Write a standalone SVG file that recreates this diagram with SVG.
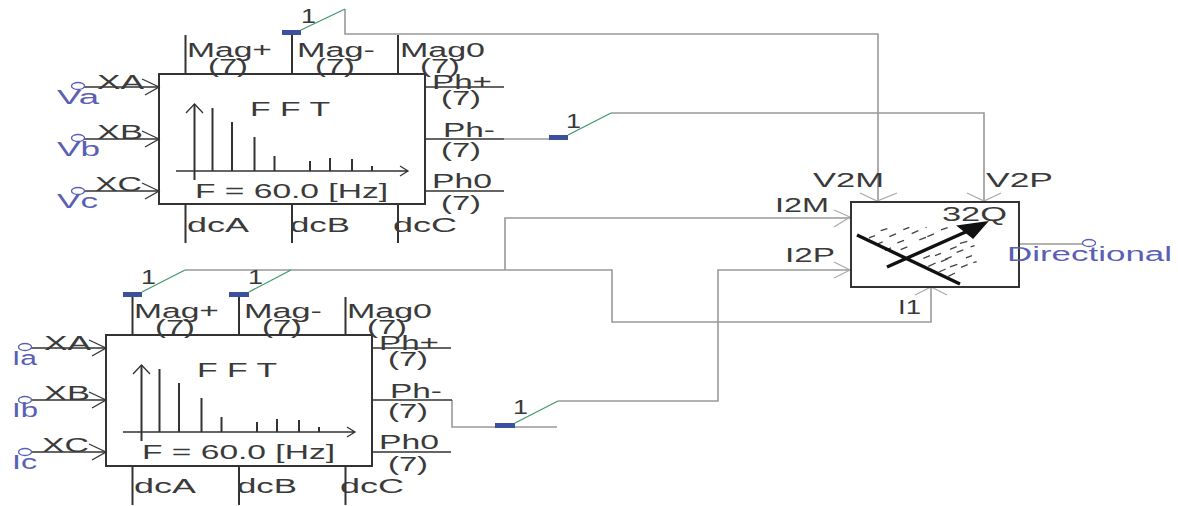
<svg xmlns="http://www.w3.org/2000/svg" width="1178" height="506" viewBox="0 0 1178 506">
<style>
text{font-family:"Liberation Sans",Arial,sans-serif;font-size:20px;fill:#3a3a3a}
.b{fill:#5a60b4}
.box{fill:#fff;stroke:#333;stroke-width:2}
.pin{stroke:#333;stroke-width:2;fill:none}
.thin{stroke:#333;stroke-width:1.3;fill:none}
.wire{stroke:#999;stroke-width:1.6;fill:none}
.ah{stroke:#aaa;stroke-width:1.2;fill:none}
.g{stroke:#3f9a6a;stroke-width:1.3;fill:none}
.sw{fill:#3c50a0}
.term{fill:#fff;stroke:#5a60b4;stroke-width:1.3}
.heavy{stroke:#111;stroke-width:3.4;fill:none}
.dash{stroke:#444;stroke-width:4;fill:none}
</style>
<defs>
<g id="spectrum">
<path class="pin" d="M35.500 30V106M53.500 34V97M73 48V97M95.500 63V97M115.500 82V97M151 87V97M171 84V97M193 85V97M213 92V97"/>
<path class="thin" d="M17 97H249M27 39L35.500 30L44 39M241 92L249 97L241 102"/>
</g>
<g id="inArrow"><path class="thin" d="M-17-8L0 0L-14 8"/></g>
</defs>
<rect width="1178" height="506" fill="#fff"/>
<g id="connectors">
<path class="wire" d="M345 9V34H878V201"/>
<path class="wire" d="M504 139H549M611 113H984V201"/>
<path class="wire" d="M185 270H612V322H931V287M505 270V218H850"/>
<path class="wire" d="M452 400V427H495M515 427H557M558 401H718V270H850"/>
<path class="wire" d="M1019 244H1083"/>
<path class="ah" d="M860 193L877 201L897 193M967 193L984 201L1001 193M834 210L850 217L834 227M834 262L850 270L834 278M915 295L931 287L947 295"/>
</g>
<g id="fft-v">
<path class="pin" d="M185.500 35V74M292 35V74M398 35V74M185.500 205V243M292 205V243M398 205V243"/>
<path class="thin" d="M75 87H159M75 139H159M75 191H159M425 87H504M425 139H504M425 191H504"/>
<rect class="box" x="159" y="74" width="266" height="130"/>
<use href="#spectrum" x="159" y="74"/>
<use href="#inArrow" x="159" y="87"/><use href="#inArrow" x="159" y="139"/><use href="#inArrow" x="159" y="191"/>
<ellipse class="term" cx="78" cy="86" rx="6.500" ry="3.500"/><ellipse class="term" cx="78" cy="138" rx="6.500" ry="3.500"/><ellipse class="term" cx="78" cy="191" rx="6.500" ry="3.500"/>
<text x="187" y="57" textLength="85" lengthAdjust="spacingAndGlyphs">Mag+</text>
<text x="208" y="73" textLength="40" lengthAdjust="spacingAndGlyphs">(7)</text>
<text x="297" y="57" textLength="78" lengthAdjust="spacingAndGlyphs">Mag-</text>
<text x="315" y="73" textLength="40" lengthAdjust="spacingAndGlyphs">(7)</text>
<text x="400" y="57" textLength="85" lengthAdjust="spacingAndGlyphs">Mag0</text>
<text x="420" y="73" textLength="40" lengthAdjust="spacingAndGlyphs">(7)</text>
<text x="432" y="89" textLength="60" lengthAdjust="spacingAndGlyphs">Ph+</text>
<text x="441" y="105" textLength="40" lengthAdjust="spacingAndGlyphs">(7)</text>
<text x="443" y="137" textLength="52" lengthAdjust="spacingAndGlyphs">Ph-</text>
<text x="441" y="157" textLength="40" lengthAdjust="spacingAndGlyphs">(7)</text>
<text x="432" y="188" textLength="60" lengthAdjust="spacingAndGlyphs">Ph0</text>
<text x="441" y="210" textLength="40" lengthAdjust="spacingAndGlyphs">(7)</text>
<text x="187" y="232" textLength="62" lengthAdjust="spacingAndGlyphs">dcA</text>
<text x="290" y="232" textLength="60" lengthAdjust="spacingAndGlyphs">dcB</text>
<text x="393" y="232" textLength="64" lengthAdjust="spacingAndGlyphs">dcC</text>
<text x="97" y="89" textLength="47" lengthAdjust="spacingAndGlyphs">XA</text>
<text x="97" y="139" textLength="46" lengthAdjust="spacingAndGlyphs">XB</text>
<text x="95" y="191" textLength="47" lengthAdjust="spacingAndGlyphs">XC</text>
<text class="b" x="57" y="104" textLength="42" lengthAdjust="spacingAndGlyphs">Va</text>
<text class="b" x="57" y="156" textLength="43" lengthAdjust="spacingAndGlyphs">Vb</text>
<text class="b" x="57" y="208" textLength="41" lengthAdjust="spacingAndGlyphs">Vc</text>
<text x="250" y="116" textLength="80" lengthAdjust="spacingAndGlyphs">F F T</text>
<text x="195" y="198" textLength="193" lengthAdjust="spacingAndGlyphs">F = 60.0 [Hz]</text>
</g>
<g id="fft-i">
<path class="pin" d="M132.500 297V335M239 297V335M345.500 297V335M132.500 466V505M239 466V505M345.500 466V505"/>
<path class="thin" d="M22 348H106M22 400H106M22 452H106M372 348H451M372 400H452M372 452H451"/>
<rect class="box" x="106" y="335" width="266" height="131"/>
<use href="#spectrum" x="106" y="335"/>
<use href="#inArrow" x="106" y="348"/><use href="#inArrow" x="106" y="400"/><use href="#inArrow" x="106" y="452"/>
<ellipse class="term" cx="25" cy="347" rx="6.500" ry="3.500"/><ellipse class="term" cx="25" cy="400" rx="6.500" ry="3.500"/><ellipse class="term" cx="25" cy="452" rx="6.500" ry="3.500"/>
<text x="134" y="318" textLength="85" lengthAdjust="spacingAndGlyphs">Mag+</text>
<text x="155" y="334" textLength="40" lengthAdjust="spacingAndGlyphs">(7)</text>
<text x="244" y="318" textLength="78" lengthAdjust="spacingAndGlyphs">Mag-</text>
<text x="262" y="334" textLength="40" lengthAdjust="spacingAndGlyphs">(7)</text>
<text x="347" y="318" textLength="85" lengthAdjust="spacingAndGlyphs">Mag0</text>
<text x="367" y="334" textLength="40" lengthAdjust="spacingAndGlyphs">(7)</text>
<text x="379" y="350" textLength="60" lengthAdjust="spacingAndGlyphs">Ph+</text>
<text x="388" y="366" textLength="40" lengthAdjust="spacingAndGlyphs">(7)</text>
<text x="390" y="398" textLength="52" lengthAdjust="spacingAndGlyphs">Ph-</text>
<text x="388" y="418" textLength="40" lengthAdjust="spacingAndGlyphs">(7)</text>
<text x="379" y="449" textLength="60" lengthAdjust="spacingAndGlyphs">Ph0</text>
<text x="388" y="471" textLength="40" lengthAdjust="spacingAndGlyphs">(7)</text>
<text x="134" y="493" textLength="62" lengthAdjust="spacingAndGlyphs">dcA</text>
<text x="237" y="493" textLength="60" lengthAdjust="spacingAndGlyphs">dcB</text>
<text x="340" y="493" textLength="64" lengthAdjust="spacingAndGlyphs">dcC</text>
<text x="44" y="350" textLength="47" lengthAdjust="spacingAndGlyphs">XA</text>
<text x="44" y="400" textLength="46" lengthAdjust="spacingAndGlyphs">XB</text>
<text x="42" y="452" textLength="47" lengthAdjust="spacingAndGlyphs">XC</text>
<text class="b" x="12" y="365" textLength="25" lengthAdjust="spacingAndGlyphs">Ia</text>
<text class="b" x="12" y="417" textLength="26" lengthAdjust="spacingAndGlyphs">Ib</text>
<text class="b" x="12" y="469" textLength="25" lengthAdjust="spacingAndGlyphs">Ic</text>
<text x="197" y="377" textLength="80" lengthAdjust="spacingAndGlyphs">F F T</text>
<text x="142" y="459" textLength="193" lengthAdjust="spacingAndGlyphs">F = 60.0 [Hz]</text>
</g>
<g id="switch-mag-v"><rect class="sw" x="282" y="30" width="19" height="5"/><path class="g" d="M301 30L345 9"/><text x="301" y="23" textLength="15" lengthAdjust="spacingAndGlyphs">1</text></g>
<g id="switch-ph-v"><rect class="sw" x="549" y="135" width="19" height="5"/><path class="g" d="M568 135L611 113"/><text x="566" y="128" textLength="15" lengthAdjust="spacingAndGlyphs">1</text></g>
<g id="switch-mag-i1"><rect class="sw" x="123" y="292" width="19" height="5"/><path class="g" d="M142 292L185 270"/><text x="141" y="284" textLength="15" lengthAdjust="spacingAndGlyphs">1</text></g>
<g id="switch-mag-i2"><rect class="sw" x="229" y="292" width="20" height="5"/><path class="g" d="M249 292L291 270"/><text x="248" y="284" textLength="15" lengthAdjust="spacingAndGlyphs">1</text></g>
<g id="switch-ph-i"><rect class="sw" x="495" y="423" width="20" height="5"/><path class="g" d="M515 423L558 401"/><text x="513" y="414" textLength="15" lengthAdjust="spacingAndGlyphs">1</text></g>
<g id="relay-32q">
<rect class="box" x="851" y="202" width="168" height="85"/>
<g transform="translate(760 160) scale(.3333)">
<path class="dash" d="M362 212L382 206M430 209L448 202M497 203L500 202M543 210L563 203M327 234L345 227M388 230L408 222M455 221L475 212M502 230L522 222M350 253L368 246M412 249L432 241M478 240L498 232M375 271L393 264M422 269L442 261M570 268L590 260M600 250L622 244M632 261L644 257M490 295L510 287M525 287L543 280M555 298L575 290M590 277L610 270M618 294L636 287M505 319L527 309M543 305L563 297M603 322L623 314M640 308L650 305M537 336L557 327M570 321L592 313M565 349L585 339"/>
</g>
<path class="heavy" d="M857 235L960 284M887 267L970 230"/>
<path d="M987 222L958 226L973 238Z" fill="#111" stroke="#111" stroke-width="1.500"/>
<text x="942" y="221" textLength="65" lengthAdjust="spacingAndGlyphs">32Q</text>
<text x="813" y="187" textLength="71" lengthAdjust="spacingAndGlyphs">V2M</text>
<text x="986" y="187" textLength="67" lengthAdjust="spacingAndGlyphs">V2P</text>
<text x="775" y="212" textLength="54" lengthAdjust="spacingAndGlyphs">I2M</text>
<text x="785" y="262" textLength="50" lengthAdjust="spacingAndGlyphs">I2P</text>
<text x="898" y="314" textLength="23" lengthAdjust="spacingAndGlyphs">I1</text>
</g>
<g id="output-directional">
<ellipse class="term" cx="1089" cy="243" rx="6.500" ry="3.500"/>
<text class="b" x="1007" y="261" textLength="165" lengthAdjust="spacingAndGlyphs">Directional</text>
</g>
</svg>
